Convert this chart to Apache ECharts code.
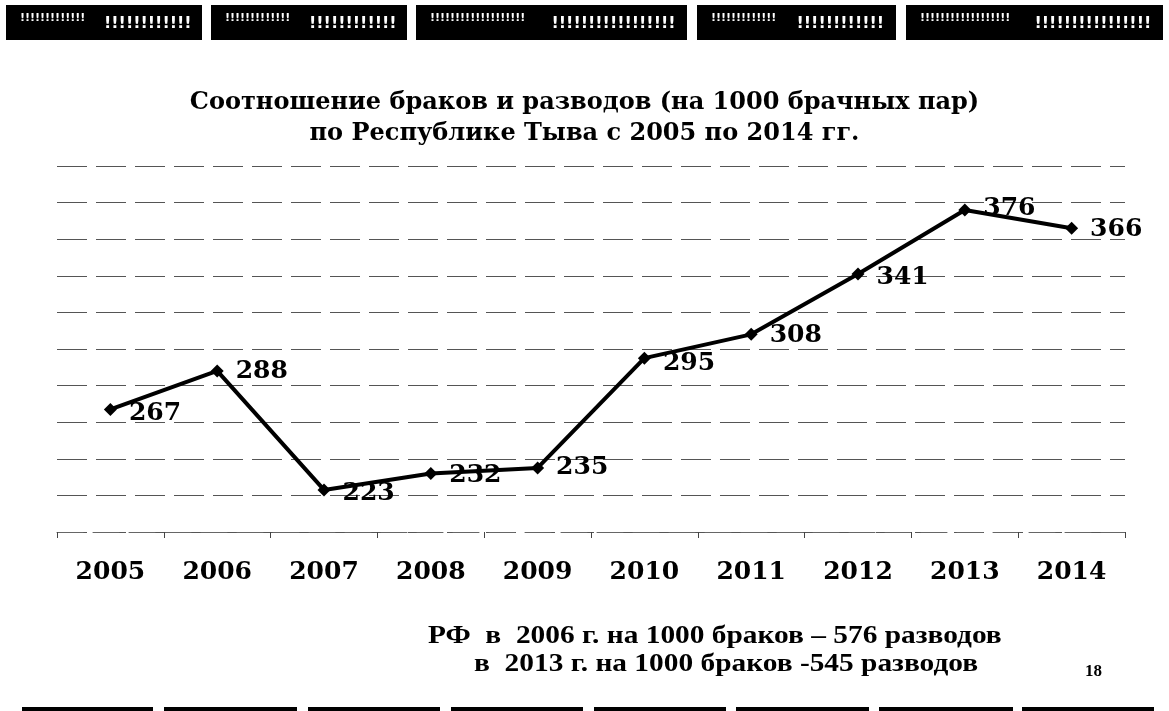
<!DOCTYPE html>
<html>
<head>
<meta charset="utf-8">
<script src="https://cdn.jsdelivr.net/npm/echarts@6/dist/echarts.min.js"></script>
<style>
	html, body { margin: 0; padding: 0; background: #fff; }
	#chart { width: 1169px; height: 711px; }
</style>
</head>
<body>
<div id="chart"></div>
<script>
// данные
const years = ['2005', '2006', '2007', '2008', '2009', '2010', '2011', '2012', '2013', '2014']
const ratio = [267, 288, 223, 232, 235, 295, 308, 341, 376, 366]
// смещение подписи по вертикали (как на слайде)
const labelShift = [4, 1, 4, 2, 0, 5, 1, 4, -1, 1]

const chart = echarts.init(document.getElementById('chart'))

// чёрные плашки сверху и снизу слайда
const topBars = [[6, 202], [211, 407], [416, 687], [697, 896], [906, 1163]]
const bottomBars = [[22, 153], [164, 297], [308, 440], [451, 583], [594, 726], [736, 869], [879, 1013], [1022, 1154]]

const decor = []
topBars.forEach(b => {
	const w = b[1] - b[0]
	decor.push({ type: 'rect', shape: { x: b[0], y: 5, width: w, height: 35 }, style: { fill: '#000' } })
	// мелкий «текст» на плашках
	decor.push({
		type: 'text', x: b[0] + 14, y: 13,
		style: { text: '!'.repeat(Math.floor((w * 0.48 - 14) / 6)), fill: '#fff', font: 'bold 11px "DejaVu Sans"' },
	})
	decor.push({
		type: 'text', x: b[0] + w * 0.5, y: 16,
		style: { text: '!'.repeat(Math.floor((w * 0.45) / 7)), fill: '#fff', font: 'bold 16px "DejaVu Sans"' },
	})
})
bottomBars.forEach(b => {
	decor.push({ type: 'rect', shape: { x: b[0], y: 707, width: b[1] - b[0], height: 4 }, style: { fill: '#000' } })
})

decor.push({
	type: 'text', x: 428, y: 636, scaleX: 1.13,
	style: { text: 'РФ  в  2006 г. на 1000 браков – 576 разводов', fill: '#000', font: 'bold 26px "Liberation Serif"', verticalAlign: 'middle' },
})
decor.push({
	type: 'text', x: 474, y: 664, scaleX: 1.13,
	style: { text: 'в  2013 г. на 1000 браков -545 разводов', fill: '#000', font: 'bold 26px "Liberation Serif"', verticalAlign: 'middle' },
})
decor.push({
	type: 'text', x: 1085, y: 672,
	style: { text: '18', fill: '#000', font: 'bold 17px "Liberation Serif"', verticalAlign: 'middle' },
})

chart.setOption({
	backgroundColor: '#fff',
	animation: false,
	title: {
		text: 'Соотношение браков и разводов (на 1000 брачных пар)\nпо Республике Тыва с 2005 по 2014 гг.',
		left: 'center',
		top: 82,
		textStyle: { fontFamily: 'DejaVu Serif', fontWeight: 'bold', fontSize: 24, lineHeight: 31, color: '#000' },
	},
	grid: { left: 57, right: 44, top: 166, bottom: 179 },
	xAxis: {
		type: 'category',
		data: years,
		boundaryGap: true,
		axisLine: { lineStyle: { color: '#666', width: 1, type: [26, 10] } },
		axisTick: { show: true, length: 6, lineStyle: { color: '#444' } },
		axisLabel: { margin: 28, color: '#000', fontFamily: 'DejaVu Serif', fontWeight: 'bold', fontSize: 25 },
	},
	yAxis: {
		type: 'value',
		min: 200,
		max: 400,
		interval: 20,
		axisLine: { show: false },
		axisTick: { show: false },
		axisLabel: { show: false },
		splitLine: { lineStyle: { color: '#555', width: 1, type: [30, 9] } },
	},
	series: [
		{
			name: 'Разводы',
			type: 'line',
			data: ratio.map((v, i) => ({
				value: v,
				label: { offset: [0, labelShift[i]] },
			})),
			symbol: 'diamond',
			symbolSize: 13,
			lineStyle: { color: '#000', width: 4 },
			itemStyle: { color: '#000' },
			label: {
				show: true,
				position: 'right',
				distance: 12,
				color: '#000',
				fontFamily: 'DejaVu Serif',
				fontWeight: 'bold',
				fontSize: 25,
			},
		},
	],
	graphic: decor,
})
</script>
</body>
</html>
